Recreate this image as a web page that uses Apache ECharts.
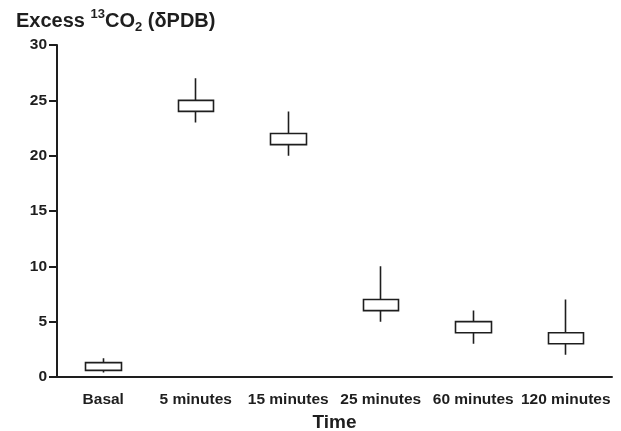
<!DOCTYPE html>
<html>
<head>
<meta charset="utf-8">
<script src="https://cdn.jsdelivr.net/npm/echarts@6/dist/echarts.min.js"></script>
<style>
  html, body { margin: 0; padding: 0; background: #fff; }
  #chart { width: 621px; height: 431px; }
</style>
</head>
<body>
<div id="chart"></div>
<script>
// Data
const categories = ['Basal', '5 minutes', '15 minutes', '25 minutes', '60 minutes', '120 minutes'];
const whiskerLow = [0.4, 23, 20, 5, 3, 2];
const boxLow = [0.6, 24, 21, 6, 4, 3];
const boxHigh = [1.3, 25, 22, 7, 5, 4];
const whiskerHigh = [1.7, 27, 24, 10, 6, 7];
const yTicks = { min: 0, max: 30, step: 5 };

const ink = '#1e1e1e';
const font = 'Liberation Sans, Arial, sans-serif';

// candlestick order: [open, close, lowest, highest]
const boxes = categories.map((c, i) => [boxLow[i], boxHigh[i], whiskerLow[i], whiskerHigh[i]]);

const chart = echarts.init(document.getElementById('chart'));
chart.setOption({
    backgroundColor: '#fff',
    animation: false,
    title: {
        text: 'Excess {sup|13}CO{sub|2} (δPDB)',
        left: 11,
        top: 3,
        textStyle: {
            fontFamily: font,
            fontWeight: 'bold',
            fontSize: 20,
            color: ink,
            lineHeight: 26,
            rich: {
                sup: { fontFamily: font, fontWeight: 'bold', fontSize: 13, color: ink, verticalAlign: 'top', lineHeight: 26, padding: [0, 0, 8, 0] },
                sub: { fontFamily: font, fontWeight: 'bold', fontSize: 13, color: ink, verticalAlign: 'bottom', lineHeight: 26, padding: [8, 0, 0, 0] }
            }
        }
    },
    grid: { left: 57, right: 9, top: 45, bottom: 54, outerBoundsMode: 'none', containLabel: false },
    xAxis: {
        type: 'category',
        data: categories,
        name: 'Time',
        nameLocation: 'middle',
        nameGap: 32,
        nameTextStyle: { fontFamily: font, fontWeight: 'bold', fontSize: 19, color: ink },
        axisLine: { lineStyle: { color: ink, width: 2 } },
        axisTick: { length: 9, interval: 0, lineStyle: { color: ink, width: 2 } },
        axisLabel: { interval: 0, margin: 15, fontFamily: font, fontWeight: 'bold', fontSize: 15.5, color: ink },
        splitLine: { show: false }
    },
    yAxis: {
        type: 'value',
        min: yTicks.min,
        max: yTicks.max,
        interval: yTicks.step,
        axisLine: { show: true, lineStyle: { color: ink, width: 2 } },
        axisTick: { show: true, length: 8, lineStyle: { color: ink, width: 2 } },
        axisLabel: { margin: 10, fontFamily: font, fontWeight: 'bold', fontSize: 15.5, color: ink },
        splitLine: { show: false }
    },
    series: [{
        type: 'candlestick',
        data: boxes,
        barWidth: 36,
        itemStyle: {
            color: '#fff',
            color0: '#fff',
            borderColor: ink,
            borderColor0: ink,
            borderWidth: 1.6
        }
    }]
});
</script>
</body>
</html>
